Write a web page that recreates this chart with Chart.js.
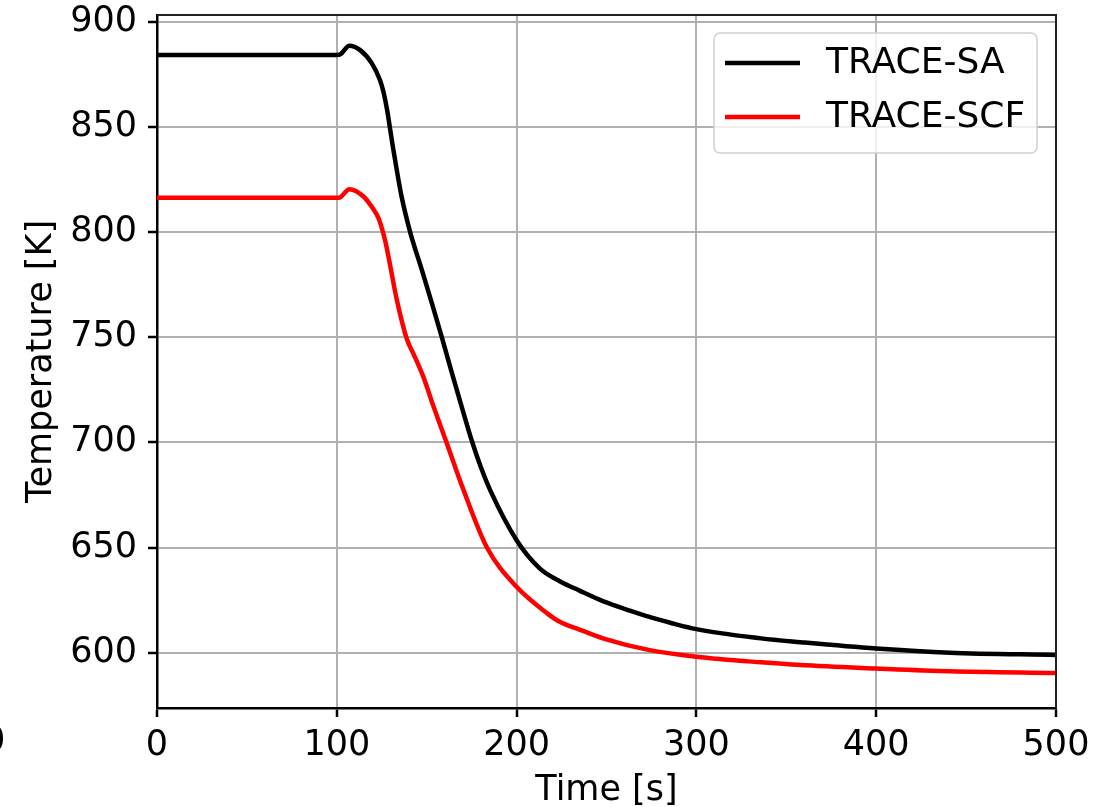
<!DOCTYPE html>
<html lang="en">
<head>
    <meta charset="utf-8">
    <title>Temperature vs Time</title>
    <script src="https://cdn.jsdelivr.net/npm/chart.js"></script>
    <style>
        html, body { margin: 0; padding: 0; background: #ffffff; }
        #chart-box { width: 1111px; height: 807px; }
    </style>
</head>
<body>
    <div id="chart-box">
        <canvas id="temp-chart" width="1111" height="807"></canvas>
    </div>
    <script>
        // values
        const timeSA = [0, 100, 102, 107, 113, 119.5, 124, 126, 128, 130, 131.5, 136, 140.8, 147.3, 152.9, 158.4, 164, 169.6, 175, 180, 185.3, 200, 213, 224, 235, 248, 263, 274, 300, 336, 358, 400, 441, 500];
        const tempSA = [884.2, 884.2, 884.5, 888.6, 886.5, 880.2, 872.3, 866.5, 858, 847, 839, 817, 800, 782, 766.1, 750, 733, 716.5, 701, 688.5, 677.3, 653.5, 640, 634, 629.5, 624.5, 620, 617, 611.2, 606.8, 605, 602, 600, 598.9];

        const timeSCF = [0, 100, 102, 107, 115, 120, 123, 125, 127, 128.7, 133.4, 139, 142.7, 148.2, 153.8, 161, 170.5, 183.5, 200, 217, 224, 235, 248, 274, 300, 336, 358, 400, 441, 500];
        const tempSCF = [816.3, 816.3, 816.6, 820.4, 816.8, 811.3, 807, 802, 795.5, 788.5, 767.7, 749, 742, 731, 717, 700, 677.3, 650, 631.3, 618.7, 614.7, 611, 606.8, 601.2, 598.1, 595.4, 594.1, 592.5, 591.2, 590.4];

        const seriesNames = ['TRACE-SA', 'TRACE-SCF'];
        const xTicks = [0, 100, 200, 300, 400, 500];
        const yTicks = [600, 650, 700, 750, 800, 850, 900];

        const FONT = 'DejaVu Sans';

        function toPoints(xs, ys) {
            return xs.map(function (x, i) { return { x: x, y: ys[i] }; });
        }

        // top and right spines
        const boxPlugin = {
            id: 'boxPlugin',
            afterDatasetsDraw(chart) {
                const a = chart.chartArea;
                const ctx = chart.ctx;
                ctx.save();
                ctx.strokeStyle = '#222';
                ctx.lineWidth = 2;
                ctx.beginPath();
                ctx.moveTo(a.left, a.top);
                ctx.lineTo(a.right, a.top);
                ctx.lineTo(a.right, a.bottom);
                ctx.stroke();
                ctx.restore();
            }
        };

        // legend drawn inside the plot, top right
        const boxLegend = {
            id: 'boxLegend',
            afterDraw(chart) {
                const ctx = chart.ctx;
                const a = chart.chartArea;
                const x0 = a.right - 342, y0 = a.top + 18, w = 323, h = 120;
                ctx.save();
                ctx.fillStyle = 'rgba(255,255,255,0.8)';
                ctx.strokeStyle = '#d0d0d0';
                ctx.lineWidth = 1.5;
                ctx.beginPath();
                ctx.roundRect(x0, y0, w, h, 6);
                ctx.fill();
                ctx.stroke();
                ctx.font = '36px "' + FONT + '"';
                ctx.textBaseline = 'middle';
                chart.data.datasets.forEach(function (ds, i) {
                    const cy = y0 + 30 + i * 54;
                    ctx.strokeStyle = ds.borderColor;
                    ctx.lineWidth = 4.5;
                    ctx.beginPath();
                    ctx.moveTo(x0 + 11, cy);
                    ctx.lineTo(x0 + 86, cy);
                    ctx.stroke();
                    ctx.fillStyle = '#000';
                    ctx.fillText(ds.label, x0 + 112, cy + 1);
                });
                // cut-off tick label of the neighbouring plot
                ctx.textAlign = 'center';
                ctx.fillText('0', -6, 742);
                ctx.restore();
            }
        };

        const chart = new Chart(document.getElementById('temp-chart').getContext('2d'), {
            type: 'line',
            data: {
                datasets: [{
                    label: seriesNames[0],
                    data: toPoints(timeSA, tempSA),
                    borderColor: '#000000',
                    borderWidth: 4.5,
                    pointRadius: 0,
                    cubicInterpolationMode: 'monotone',
                    fill: false
                }, {
                    label: seriesNames[1],
                    data: toPoints(timeSCF, tempSCF),
                    borderColor: '#ff0000',
                    borderWidth: 4.5,
                    pointRadius: 0,
                    cubicInterpolationMode: 'monotone',
                    fill: false
                }]
            },
            options: {
                responsive: false,
                animation: false,
                layout: { padding: { left: 0, top: 15, right: 55, bottom: 0 } },
                plugins: {
                    legend: { display: false },
                    tooltip: { enabled: false }
                },
                scales: {
                    x: {
                        type: 'linear',
                        min: 0,
                        max: 500,
                        afterBuildTicks: function (s) { s.ticks = xTicks.map(function (v) { return { value: v }; }); },
                        afterFit: function (s) { s.height = 99; s.paddingLeft = 0; s.paddingRight = 0; },
                        grid: { color: '#b0b0b0', lineWidth: 2, tickColor: '#000', tickLength: 9, tickWidth: 2.5 },
                        border: { color: '#000', width: 2.5 },
                        ticks: { color: '#000', font: { family: FONT, size: 35 }, padding: 8, maxRotation: 0 },
                        title: { display: true, text: 'Time [s]', color: '#000', font: { family: FONT, size: 35, lineHeight: 1 }, padding: { top: 0, bottom: -1 } }
                    },
                    y: {
                        type: 'linear',
                        min: 573.7,
                        max: 903.2,
                        afterBuildTicks: function (s) { s.ticks = yTicks.map(function (v) { return { value: v }; }); },
                        afterFit: function (s) { s.width = 157; s.paddingTop = 0; s.paddingBottom = 0; },
                        grid: { color: '#b0b0b0', lineWidth: 2, tickColor: '#000', tickLength: 9, tickWidth: 2.5 },
                        border: { color: '#000', width: 2.5 },
                        ticks: { color: '#000', font: { family: FONT, size: 35 }, padding: 11 },
                        title: { display: true, text: 'Temperature [K]', color: '#000', font: { family: FONT, size: 35, lineHeight: 1 }, padding: { top: 24, bottom: 0 } }
                    }
                }
            },
            plugins: [boxPlugin, boxLegend]
        });
    </script>
</body>
</html>
